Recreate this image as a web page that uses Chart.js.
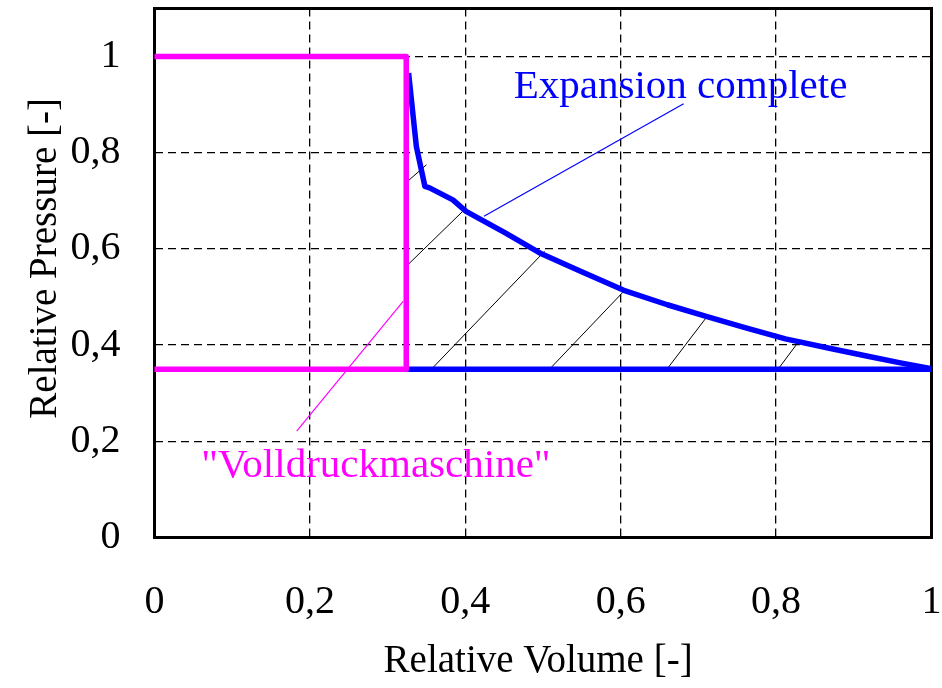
<!DOCTYPE html>
<html>
<head>
<meta charset="utf-8">
<script src="https://cdn.jsdelivr.net/npm/chart.js@4.4.1/dist/chart.umd.min.js"></script>
<style>
  html, body { margin: 0; padding: 0; background: #fff; }
  #wrap { width: 942px; height: 688px; }
</style>
</head>
<body>
<div id="wrap"><canvas id="pvChart" width="942" height="688"></canvas></div>
<script>
// Achsen
const xTicks = [0, 0.2, 0.4, 0.6, 0.8, 1];
const yTicks = [0, 0.2, 0.4, 0.6, 0.8, 1];
const tickLabels = ['0', '0,2', '0,4', '0,6', '0,8', '1'];

// "Volldruckmaschine" (Rechteck)
const fullX = [0, 0.324, 0.324, 0];
const fullY = [1, 1, 0.35, 0.35];

// Expansion complete (Kurve)
const expX = [0.327, 0.337, 0.348, 0.354, 0.384, 0.401, 0.452, 0.498, 0.549, 0.604, 0.660, 0.710, 0.761, 0.812, 0.867, 0.918, 0.960, 1.0];
const expY = [0.966, 0.813, 0.730, 0.727, 0.702, 0.678, 0.633, 0.590, 0.553, 0.514, 0.484, 0.460, 0.436, 0.413, 0.394, 0.377, 0.363, 0.351];
const baseX = [0.324, 1.0];
const baseY = [0.35, 0.35];

// Schraffur (Start / Ende)
const hatchX0 = [0.326, 0.326, 0.357, 0.509, 0.660, 0.803];
const hatchY0 = [0.741, 0.567, 0.351, 0.351, 0.351, 0.351];
const hatchX1 = [0.350, 0.401, 0.502, 0.604, 0.710, 0.828];
const hatchY1 = [0.775, 0.685, 0.595, 0.512, 0.457, 0.405];

// Hinweislinien
const leadBlueX = [0.424, 0.681];
const leadBlueY = [0.668, 0.902];
const leadPinkX = [0.183, 0.320];
const leadPinkY = [0.221, 0.491];

const BLUE = '#0000ff';
const PINK = '#ff00ff';
const SERIF = '"Liberation Serif", "Times New Roman", serif';

function pts(xs, ys) {
    return xs.map((x, i) => ({ x: x, y: ys[i] }));
}

function lineSet(data, color, width, order) {
    return {
        data: data,
        showLine: true,
        borderColor: color,
        backgroundColor: color,
        borderWidth: width,
        pointRadius: 0,
        tension: 0,
        fill: false,
        clip: false,
        order: order,
        borderJoinStyle: 'round',
        borderCapStyle: 'butt'
    };
}

const datasets = [];
datasets.push(lineSet(pts(fullX, fullY), PINK, 5.5, 0));
datasets.push(lineSet(pts(expX, expY), BLUE, 5.5, 1));
datasets.push(lineSet(pts(baseX, baseY), BLUE, 5.5, 1));
for (let i = 0; i < hatchX0.length; i++) {
    datasets.push(lineSet([{ x: hatchX0[i], y: hatchY0[i] }, { x: hatchX1[i], y: hatchY1[i] }], '#000', 1, 3));
}
datasets.push(lineSet(pts(leadBlueX, leadBlueY), BLUE, 1.2, 2));
datasets.push(lineSet(pts(leadPinkX, leadPinkY), PINK, 1.2, 2));

// Rahmen um die Zeichenfläche
const framePlugin = {
    id: 'frame',
    beforeDatasetsDraw(chart) {
        const a = chart.chartArea;
        const ctx = chart.ctx;
        ctx.save();
        ctx.strokeStyle = '#000';
        ctx.lineWidth = 3;
        ctx.strokeRect(a.left, a.top, a.right - a.left, a.bottom - a.top);
        ctx.restore();
    }
};

// Beschriftungen im Diagramm
const notes = [
    { text: 'Expansion complete', x: 0.677, y: 0.9146, color: BLUE },
    { text: '"Volldruckmaschine"', x: 0.285, y: 0.1266, color: PINK }
];
const notePlugin = {
    id: 'notes',
    afterDatasetsDraw(chart) {
        const ctx = chart.ctx;
        const xs = chart.scales.x, ys = chart.scales.y;
        ctx.save();
        ctx.font = '41px ' + SERIF;
        ctx.textAlign = 'center';
        ctx.textBaseline = 'alphabetic';
        notes.forEach(n => {
            ctx.fillStyle = n.color;
            ctx.fillText(n.text, xs.getPixelForValue(n.x), ys.getPixelForValue(n.y));
        });
        ctx.restore();
    }
};

const ctx = document.getElementById('pvChart').getContext('2d');
const chart = new Chart(ctx, {
    type: 'scatter',
    data: { datasets: datasets },
    options: {
        responsive: false,
        animation: false,
        layout: { padding: { top: 8.5, right: 10.5, left: 0, bottom: 0 } },
        plugins: {
            legend: { display: false },
            tooltip: { enabled: false }
        },
        scales: {
            x: {
                type: 'linear',
                min: 0,
                max: 1,
                afterBuildTicks: s => { s.ticks = xTicks.map(v => ({ value: v })); },
                afterFit: s => {
                    s.height = 150.5;
                    s.paddingLeft = 0; s.paddingRight = 0;
                },
                ticks: {
                    padding: 41,
                    color: '#000',
                    font: { family: SERIF, size: 40 },
                    maxRotation: 0,
                    callback: (v, i) => tickLabels[i]
                },
                grid: { color: '#000', lineWidth: 1.3, drawTicks: false },
                border: { display: false, dash: [8, 5] },
                title: {
                    display: true,
                    text: 'Relative Volume [-] ',
                    color: '#000',
                    font: { family: SERIF, size: 39 },
                    padding: { top: 0, bottom: 3 }
                }
            },
            y: {
                type: 'linear',
                min: 0,
                max: 1.1,
                afterBuildTicks: s => { s.ticks = yTicks.map(v => ({ value: v })); },
                afterFit: s => {
                    s.width = 154.5;
                    s.paddingTop = 0; s.paddingBottom = 0;
                },
                ticks: {
                    padding: 34,
                    color: '#000',
                    font: { family: SERIF, size: 40 },
                    callback: (v, i) => tickLabels[i]
                },
                grid: { color: '#000', lineWidth: 1.3, drawTicks: false },
                border: { display: false, dash: [8, 5] },
                title: {
                    display: true,
                    text: '   Relative Pressure [-]',
                    color: '#000',
                    font: { family: SERIF, size: 39 },
                    padding: { top: 22, bottom: 0 }
                }
            }
        }
    },
    plugins: [framePlugin, notePlugin]
});
</script>
</body>
</html>
